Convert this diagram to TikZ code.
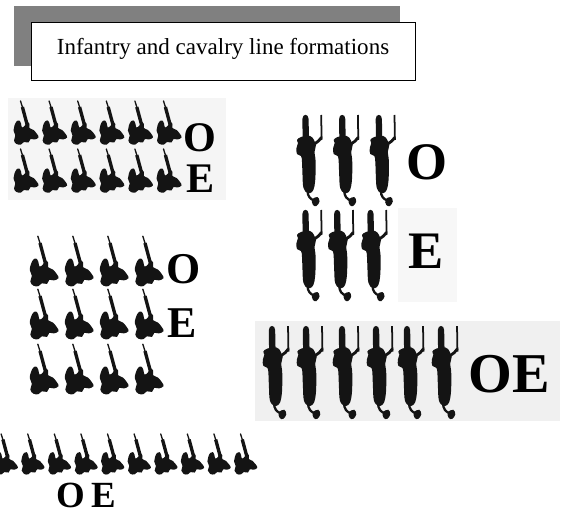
\documentclass[tikz,border=0pt]{standalone}
\usepackage{fontspec}
\setmainfont{Liberation Serif}
\begin{document}
\begin{tikzpicture}[x=0.02cm,y=-0.02cm,
  ink/.style={fill=black!92},
  infantry/.pic={
    % musket with bayonet
    \draw[black!92,line width=0.75pt,line cap=round] (5.5,1) -- (8,9);
    \draw[black!92,line width=1.9pt] (7.4,7) -- (12.5,26);
    % kneeling soldier
    \fill[ink] plot[smooth cycle,tension=0.65] coordinates {
      (1.5,21.5) (4.2,20.5) (6,23.5) (7,27.5) (10,25.5) (12,22) (14.5,24) (14.5,28)
      (18.5,30) (22,34) (23.5,37.5) (19.5,39.5) (15.5,39) (13.5,42.5) (9,42)
      (6,44.5) (1.5,44) (-1,40.5) (0.3,35.5) (-1.5,30.5) (-0.5,25.5)};
  },
  horseman/.pic={
    % raised sabre and arm
    \draw[black!92,line width=1pt] (26.6,30) -- (26.2,5);
    \draw[black!92,line width=1.6pt,line cap=round] (18,35) -- (23.5,31) -- (26.4,27.5);
    % shako
    \fill[ink] (7.6,29) -- (7.4,9) .. controls (7.4,3.5) and (13.6,3.5) .. (13.6,9) -- (14,29) -- cycle;
    % body
    \fill[ink] plot[smooth cycle,tension=0.65] coordinates {
      (6,27) (15,26) (19,30) (21,35) (19.5,42) (20.5,50) (20.5,65) (19.5,76) (17,82)
      (12.5,83) (8.5,78) (7.5,65) (7,52) (6,46) (2,44) (1.5,38) (3,33) (2,30)};
    % tail and hoof
    \draw[black!92,line width=1.3pt] (12.5,80) .. controls (12.5,87) and (15.5,89) .. (19,90.5);
    \fill[ink] plot[smooth cycle,tension=0.6] coordinates {
      (17,89.5) (22.5,87) (24.5,91.5) (21.5,96) (18,95)};
  },
  letter/.style={inner sep=0pt, anchor=base, text height=0.69em, text depth=0pt}
]
\path[use as bounding box, clip] (0,0) rectangle (561,513);
\fill[white] (0,0) rectangle (561,513);

% faint panels behind the groups
\fill[black!4] (8,98) rectangle (226,200);
\fill[black!3] (398,208) rectangle (457,302);
\fill[black!6] (255,321) rectangle (560,421);

% title
\fill[black!50] (14,6) rectangle (400,66);
\node[draw=black, line width=0.85pt, fill=white, minimum width=384*0.02cm,
      minimum height=58*0.02cm, anchor=north west, inner sep=0pt] (titlebox) at (31,22) {};
\node[anchor=base, inner sep=0pt, font=\fontsize{13.1}{15}\selectfont] (title) at (223,55)
  {Infantry and cavalry line formations};

% two ranks of infantry
\foreach \i in {0,...,5} {
  \pic at ({15+28.6*\i},100) {infantry};
  \pic at ({15+28.6*\i},148) {infantry};
}
\node[letter, font=\fontsize{24}{24}\bfseries\selectfont] (o1) at (200,152) {O};
\node[letter, font=\fontsize{24}{24}\bfseries\selectfont] (e1) at (200.5,192.5) {E};

% three ranks of infantry
\foreach \i in {0,...,3} {
  \pic[scale=1.15] at ({31.5+35*\i},235) {infantry};
  \pic[scale=1.15] at ({31.5+35*\i},288) {infantry};
  \pic[scale=1.15] at ({31.5+35*\i},343) {infantry};
}
\node[letter, font=\fontsize{25}{25}\bfseries\selectfont] (o3) at (183.5,283) {O};
\node[letter, font=\fontsize{25}{25}\bfseries\selectfont] (e3) at (182,337) {E};

% single line of infantry
\foreach \i in {0,...,9} {
  \pic[scale=0.93] at ({-4+26.6*\i},433) {infantry};
}
\node[letter, font=\fontsize{21}{21}\bfseries\selectfont] (oe4) at (86.5,507) {O\,E};

% two ranks of cavalry
\foreach \x in {295,331.7,368.3} { \pic at (\x,110) {horseman}; }
\foreach \x in {295,326.7,360} { \pic at (\x,205) {horseman}; }
\node[letter, font=\fontsize{30}{30}\bfseries\selectfont] (o2) at (427,180) {O};
\node[letter, font=\fontsize{30}{30}\bfseries\selectfont] (e2) at (426.5,268) {E};

% single line of cavalry
\foreach \x in {261.3,295.3,331.3,365.3,396.3,430.3} { \pic[scale=1.02] at (\x,321) {horseman}; }
\node[letter, font=\fontsize{32}{32}\bfseries\selectfont] (oe5) at (509.5,392) {OE};
\end{tikzpicture}
\end{document}
